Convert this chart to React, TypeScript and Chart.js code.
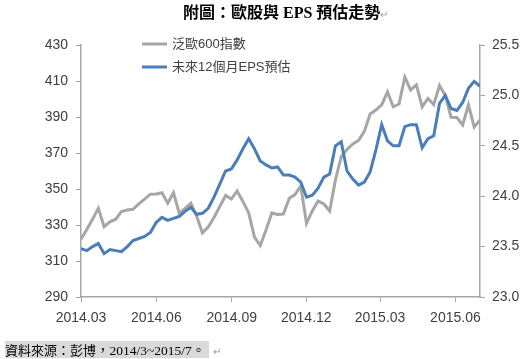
import React, { useEffect, useRef } from "react";
import { Chart, registerables } from "chart.js";

Chart.register(...registerables);

// Weekly observations, 2014/3 – 2015/7
const stoxx600 = [
  322.1, 327.5, 333.2, 339.3, 329.1, 331.8, 333.2, 337.4, 338.3, 338.7,
  341.8, 344.4, 347.1, 347.2, 347.9, 342.1, 347.9, 336.5, 339.2, 342.1,
  335.0, 325.6, 328.9, 334.2, 340.3, 346.4, 344.4, 348.9, 343.1, 336.7,
  323.3, 318.6, 327.2, 336.7, 335.8, 336.1, 344.8, 346.9, 351.7, 330.9,
  337.8, 343.3, 341.7, 337.8, 355.0, 368.0, 372.0, 375.0, 377.0, 382.0,
  391.7, 393.9, 396.7, 403.9, 395.7, 397.2, 412.2, 405.0, 407.8, 395.6,
  400.3, 396.9, 407.5, 401.9, 389.8, 389.7, 385.6, 396.7, 384.4, 388.3,
];

const eps12m = [
  23.48, 23.46, 23.5, 23.53, 23.43, 23.47, 23.46, 23.45, 23.5, 23.56,
  23.58, 23.6, 23.64, 23.74, 23.79, 23.76, 23.78, 23.8, 23.85, 23.89,
  23.82, 23.83, 23.88, 23.99, 24.12, 24.25, 24.27, 24.36, 24.47, 24.57,
  24.47, 24.35, 24.31, 24.28, 24.29, 24.21, 24.21, 24.19, 24.14, 23.99,
  24.01, 24.08, 24.19, 24.22, 24.5, 24.54, 24.25, 24.17, 24.11, 24.14,
  24.24, 24.46, 24.71, 24.55, 24.5, 24.5, 24.69, 24.71, 24.71, 24.48,
  24.57, 24.6, 24.92, 25.0, 24.87, 24.85, 24.93, 25.07, 25.14, 25.09,
];

const seriesNames = ["泛歐600指數", "未來12個月EPS預估"];
const xTickLabels = ["2014.03", "2014.06", "2014.09", "2014.12", "2015.03", "2015.06"];
const xTickDays = [0, 92, 184, 275, 365, 457]; // days after 2014-03-01
const axisSpanDays = 487; // 2014-03-01 .. 2015-07-01
const leftRange = [290, 430, 20];
const rightRange = [23.0, 25.5, 0.5];

const GRAY = "#A6A6A6";
const BLUE = "#4A7EBB";
const AXIS = "#A6A6A6";
const TEXT = "#404040";

const inlineLegend = {
  id: "inlineLegend",
  afterDatasetsDraw(chart: any) {
    const { ctx, chartArea } = chart;
    const x0 = chartArea.left + 61;
    const rows = [chartArea.top - 1, chartArea.top + 22];
    const colors = [GRAY, BLUE];
    ctx.save();
    seriesNames.forEach((name, i) => {
      ctx.strokeStyle = colors[i];
      ctx.lineWidth = 3;
      ctx.beginPath();
      ctx.moveTo(x0, rows[i]);
      ctx.lineTo(x0 + 25, rows[i]);
      ctx.stroke();
      ctx.fillStyle = TEXT;
      ctx.font = '13px "Liberation Sans", "Noto Sans CJK TC", sans-serif';
      ctx.textBaseline = "middle";
      ctx.textAlign = "left";
      ctx.fillText(name, x0 + 30, rows[i]);
    });
    ctx.restore();
  },
};

export default function App() {
  const ref = useRef<HTMLCanvasElement>(null);

  useEffect(() => {
    if (!ref.current) return;
    const n = stoxx600.length;
    const toIndex = (d: number) => (d * (n - 1)) / axisSpanDays;
    const tickFont = { family: '"Liberation Sans", sans-serif', size: 14 };

    const chart = new Chart(ref.current, {
      type: "line",
      data: {
        datasets: [
          {
            label: seriesNames[0],
            data: stoxx600.map((v, i) => ({ x: i, y: v })),
            borderColor: GRAY,
            borderWidth: 3,
            pointRadius: 0,
            tension: 0,
            yAxisID: "yL",
            order: 2,
          },
          {
            label: seriesNames[1],
            data: eps12m.map((v, i) => ({ x: i, y: v })),
            borderColor: BLUE,
            borderWidth: 3,
            pointRadius: 0,
            tension: 0,
            yAxisID: "yR",
            order: 1,
          },
        ],
      },
      options: {
        responsive: false,
        animation: false,
        layout: { padding: { top: 45, bottom: 0, left: 0, right: 0 } },
        plugins: { legend: { display: false }, tooltip: { enabled: false } },
        scales: {
          x: {
            type: "linear",
            min: 0,
            max: n - 1,
            afterBuildTicks: (scale: any) => {
              scale.ticks = xTickDays.map((d) => ({ value: toIndex(d) }));
            },
            afterFit: (scale: any) => {
              scale.height = 62;
            },
            ticks: {
              autoSkip: false,
              maxRotation: 0,
              padding: 8,
              color: TEXT,
              font: tickFont,
              callback: (_v: any, i: number) => xTickLabels[i],
            },
            grid: { drawOnChartArea: false, drawTicks: true, tickLength: 5, color: AXIS },
            border: { display: true, color: AXIS, width: 1.5 },
          },
          yL: {
            type: "linear",
            position: "left",
            min: leftRange[0],
            max: leftRange[1],
            afterFit: (scale: any) => {
              scale.width = 81;
            },
            ticks: { stepSize: leftRange[2], padding: 8, color: TEXT, font: tickFont },
            grid: { drawOnChartArea: false, drawTicks: true, tickLength: 5, color: AXIS },
            border: { display: true, color: AXIS, width: 1.5 },
          },
          yR: {
            type: "linear",
            position: "right",
            min: rightRange[0],
            max: rightRange[1],
            afterFit: (scale: any) => {
              scale.width = 42;
            },
            ticks: {
              stepSize: rightRange[2],
              padding: 7,
              color: TEXT,
              font: tickFont,
              callback: (v: any) => Number(v).toFixed(1),
            },
            grid: { drawOnChartArea: false, drawTicks: true, tickLength: 5, color: AXIS },
            border: { display: true, color: AXIS, width: 1.5 },
          },
        },
      },
      plugins: [inlineLegend],
    } as any);

    return () => chart.destroy();
  }, []);

  return (
    <div style={{ position: "fixed", left: 0, top: 0, width: 522, height: 359, background: "#fff", overflow: "hidden" }}>
      <canvas ref={ref} width={522} height={359} style={{ position: "absolute", left: 0, top: 0, width: 522, height: 359 }} />
      <div
        style={{
          position: "absolute",
          left: 183,
          top: 3,
          lineHeight: "20px",
          fontSize: 16,
          fontWeight: "bold",
          fontFamily: '"Liberation Serif", "Noto Sans CJK TC", serif',
          color: "#000",
          whiteSpace: "nowrap",
        }}
      >
        附圖：歐股與 EPS 預估走勢
        <span style={{ fontWeight: "normal", fontSize: 10, color: "#999" }}>↵</span>
      </div>
      <div
        style={{
          position: "absolute",
          left: 5,
          top: 341,
          lineHeight: "18px",
          whiteSpace: "nowrap",
          color: "#000",
        }}
      >
        <span style={{ background: "#D9D9D9", padding: "0 4px 0 0" }}>
          <span style={{ fontSize: 13, fontFamily: '"Noto Sans CJK TC", sans-serif' }}>資料來源：彭博</span>
          <span style={{ fontSize: 13.5, fontFamily: '"Liberation Serif", "Noto Sans CJK TC", serif' }}>，2014/3~2015/7。</span>
        </span>
        <span style={{ fontSize: 10, color: "#999", marginLeft: 4 }}>↵</span>
      </div>
    </div>
  );
}
